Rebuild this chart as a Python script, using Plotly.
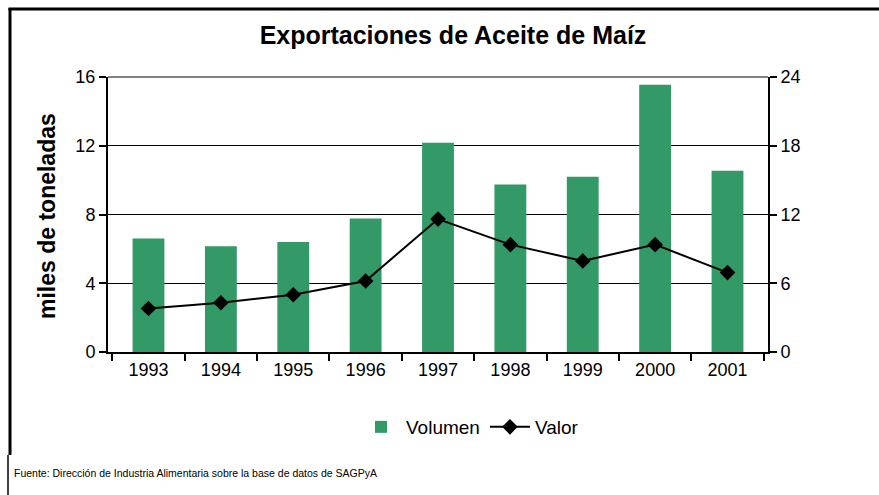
import plotly.graph_objects as go

years = ["1993", "1994", "1995", "1996", "1997", "1998", "1999", "2000", "2001"]
volumen = [6.6, 6.15, 6.4, 7.77, 12.17, 9.75, 10.2, 15.55, 10.55]
valor = [3.8, 4.3, 5.0, 6.2, 11.6, 9.37, 7.95, 9.37, 6.93]

title_text = "Exportaciones de Aceite de Maíz"
ytitle = "miles de toneladas"
footer = "Fuente: Dirección de Industria Alimentaria sobre la base de datos de SAGPyA"

W, H = 879, 495
L, R, T, B = 108, 768, 77, 352
pw, ph = R - L, B - T


def px(x):
    return (x - L) / pw


def py(y):
    return (B - y) / ph


FONT = "Arial, Liberation Sans, sans-serif"

fig = go.Figure()
fig.add_trace(go.Bar(
    x=years, y=volumen, name="Volumen",
    marker=dict(color="#339966", line=dict(width=0)),
    yaxis="y",
))
fig.add_trace(go.Scatter(
    x=years, y=valor, name="Valor", mode="lines+markers",
    line=dict(color="black", width=2),
    marker=dict(symbol="diamond", size=12, color="black"),
    yaxis="y2",
))

fig.update_layout(
    width=W, height=H,
    margin=dict(l=L, r=W - R, t=T, b=H - B, autoexpand=False),
    paper_bgcolor="white", plot_bgcolor="white",
    font=dict(family=FONT, color="black", size=18),
    bargap=0.56,
    title=dict(text="<b>" + title_text + "</b>", x=453 / W, xanchor="center",
               y=1 - 35 / H, yanchor="middle", font=dict(size=25, family=FONT)),
    xaxis=dict(
        type="category", showline=True, linecolor="black", linewidth=2,
        ticks="outside", tickson="boundaries", ticklen=7, tickwidth=2, tickcolor="black",
        showgrid=False, tickfont=dict(size=18),
    ),
    yaxis=dict(
        range=[0, 16], dtick=4, showline=True, linecolor="black", linewidth=2,
        ticks="outside", ticklen=7, tickwidth=2, tickcolor="black",
        showgrid=True, gridcolor="black", gridwidth=1, zeroline=False,
        tickfont=dict(size=18),
    ),
    yaxis2=dict(
        range=[0, 24], dtick=6, overlaying="y", side="right",
        showline=True, linecolor="black", linewidth=2,
        ticks="outside", ticklen=7, tickwidth=2, tickcolor="black",
        showgrid=False, zeroline=False, tickfont=dict(size=18),
    ),
    legend=dict(orientation="h", x=px(470), xanchor="center", y=py(427), yanchor="middle",
                font=dict(size=19), bgcolor="rgba(0,0,0,0)", itemwidth=40),
    showlegend=True,
)

fig.add_annotation(text="<b>" + ytitle + "</b>", textangle=-90, xref="paper", yref="paper",
                   x=px(47), y=py(216), showarrow=False, xanchor="center", yanchor="middle",
                   font=dict(size=23, family=FONT))
fig.add_annotation(text=footer, xref="paper", yref="paper", x=px(12), y=py(473),
                   showarrow=False, xanchor="left", yanchor="middle",
                   font=dict(size=10.5, family=FONT))

shapes = [
    dict(type="line", xref="paper", yref="paper", x0=0, x1=1, y0=1, y1=1,
         line=dict(color="#808080", width=2), layer="above"),
    dict(type="line", xref="paper", yref="paper", x0=px(8.5), x1=px(879), y0=py(9), y1=py(9),
         line=dict(color="black", width=3)),
    dict(type="line", xref="paper", yref="paper", x0=px(10), x1=px(10), y0=py(8), y1=py(455),
         line=dict(color="black", width=3)),
    dict(type="line", xref="paper", yref="paper", x0=px(8), x1=px(8), y0=py(455), y1=py(495),
         line=dict(color="black", width=1.5)),
]
fig.update_layout(shapes=shapes)

fig.write_html("out.html", config={"displayModeBar": False},
               post_script="document.body.style.margin='0';document.body.style.overflow='hidden';")
